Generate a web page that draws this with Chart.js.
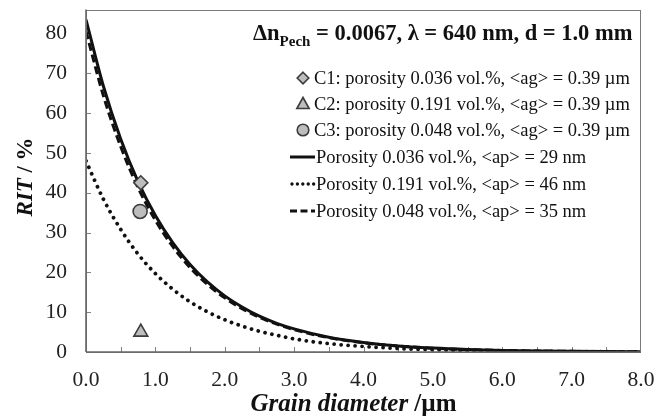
<!DOCTYPE html>
<html>
<head>
<meta charset="utf-8">
<script src="https://cdn.jsdelivr.net/npm/chart.js@4.4.1/dist/chart.umd.min.js"></script>
<style>
html,body{margin:0;padding:0;background:#fff;}
#wrap{width:657px;height:419px;position:relative;}
</style>
</head>
<body>
<div id="wrap"><canvas id="c" width="657" height="419"></canvas></div>
<script>
// ---- data ----
const grainX = [0, 0.25, 0.5, 0.75, 1.0, 1.25, 1.5, 1.75, 2.0, 2.25, 2.5, 2.75, 3.0, 3.5, 4.0, 4.5, 5.0, 5.5, 6.0, 6.5, 7.0, 7.5, 8.0];
const rit036 = [83.5, 66.8, 53.5, 42.8, 34.3, 27.5, 22.0, 17.6, 14.1, 11.3, 9.0, 7.2, 5.8, 3.7, 2.4, 1.5, 0.98, 0.63, 0.40, 0.26, 0.17, 0.11, 0.07];
const rit191 = [48.0, 38.4, 30.8, 24.6, 19.7, 15.8, 12.6, 10.1, 8.1, 6.5, 5.2, 4.2, 3.3, 2.1, 1.4, 0.87, 0.56, 0.36, 0.23, 0.15, 0.10, 0.06, 0.04];
const rit048 = [80.5, 64.4, 51.6, 41.3, 33.1, 26.5, 21.2, 17.0, 13.6, 10.9, 8.7, 7.0, 5.6, 3.6, 2.3, 1.5, 0.94, 0.60, 0.39, 0.25, 0.16, 0.10, 0.06];
const sampleNames = ["C1: porosity 0.036 vol.%, <ag> = 0.39 µm", "C2: porosity 0.191 vol.%, <ag> = 0.39 µm", "C3: porosity 0.048 vol.%, <ag> = 0.39 µm"];
const sampleX = [0.79, 0.79, 0.78];
const sampleY = [42.5, 5.0, 35.3];
const curveNames = ["Porosity 0.036 vol.%, <ap> = 29 nm", "Porosity 0.191 vol.%, <ap> = 46 nm", "Porosity 0.048 vol.%, <ap> = 35 nm"];
const xTickLabels = ["0.0","1.0","2.0","3.0","4.0","5.0","6.0","7.0","8.0"];
const yTickLabels = ["0","10","20","30","40","50","60","70","80"];
const titleParts = ["Δn", "Pech", " = 0.0067, λ = 640 nm, d = 1.0 mm"];
const xTitleParts = ["Grain diameter", " /µm"];
const yTitleParts = ["RIT", " / %"];

const SERIF = '"Liberation Serif", "Times New Roman", serif';
const GRAYFILL = '#bdbdbd', MARKEDGE = '#3c3c3c', LINE = '#111111';

function pts(xs, ys){ return xs.map((x,i)=>({x:x, y:ys[i]})); }

const markerStyles = ['rectRot','triangle','circle'];
const markerRadius = [7, 8, 7];

const datasets = [
  {label: curveNames[0], data: pts(grainX, rit036), showLine:true, borderColor:LINE, borderWidth:3, pointRadius:0, cubicInterpolationMode:'monotone', order:3},
  {label: curveNames[1], data: pts(grainX, rit191), showLine:true, borderColor:LINE, borderWidth:3.8, borderDash:[0.01,7], borderCapStyle:'round', pointRadius:0, cubicInterpolationMode:'monotone', order:3},
  {label: curveNames[2], data: pts(grainX, rit048), showLine:true, borderColor:LINE, borderWidth:3, borderDash:[8,4], pointRadius:0, cubicInterpolationMode:'monotone', order:3},
];
for (let i=0;i<3;i++){
  datasets.push({label: sampleNames[i], data:[{x:sampleX[i], y:sampleY[i]}], showLine:false,
    pointStyle: markerStyles[i], pointRadius: markerRadius[i], pointBackgroundColor:GRAYFILL,
    pointBorderColor:MARKEDGE, pointBorderWidth:1.6, order:1});
}

function drawMarker(ctx, style, x, y, r){
  ctx.save();
  ctx.fillStyle = GRAYFILL; ctx.strokeStyle = MARKEDGE; ctx.lineWidth = 1.6;
  ctx.beginPath();
  if (style==='rectRot'){ ctx.moveTo(x, y-r); ctx.lineTo(x+r, y); ctx.lineTo(x, y+r); ctx.lineTo(x-r, y); ctx.closePath(); }
  else if (style==='triangle'){ ctx.moveTo(x, y-r); ctx.lineTo(x+r*0.95, y+r*0.7); ctx.lineTo(x-r*0.95, y+r*0.7); ctx.closePath(); }
  else { ctx.arc(x, y, r, 0, Math.PI*2); }
  ctx.fill(); ctx.stroke();
  ctx.restore();
}

const decor = {
  id:'decor',
  beforeDatasetsDraw(chart){
    const {ctx, chartArea:a, scales} = chart;
    ctx.save();
    ctx.strokeStyle = '#808080'; ctx.lineWidth = 1;
    const xs = scales.x, ys = scales.y;
    for (let v=0.5; v<8; v+=0.5){
      const px = Math.round(xs.getPixelForValue(v))+0.5;
      ctx.beginPath(); ctx.moveTo(px, a.bottom); ctx.lineTo(px, a.bottom-5); ctx.stroke();
    }
    for (let v=10; v<=80; v+=10){
      const py = Math.round(ys.getPixelForValue(v))+0.5;
      ctx.beginPath(); ctx.moveTo(a.left, py); ctx.lineTo(a.left+5, py); ctx.stroke();
    }
    ctx.restore();
  },
  afterDraw(chart){
    const {ctx, chartArea:a} = chart;
    ctx.save();
    ctx.strokeStyle = '#7a7a7a'; ctx.lineWidth = 1;
    ctx.strokeRect(Math.round(a.left)+0.5, Math.round(a.top)+0.5, Math.round(a.right-a.left)-1, Math.round(a.bottom-a.top));
    ctx.strokeStyle = '#666'; ctx.lineWidth = 1.6;
    ctx.beginPath(); ctx.moveTo(a.left, a.bottom); ctx.lineTo(a.right, a.bottom); ctx.stroke();
    ctx.beginPath(); ctx.moveTo(a.left, a.top); ctx.lineTo(a.left, a.bottom); ctx.stroke();

    ctx.fillStyle = '#111';
    ctx.textBaseline = 'alphabetic';
    // legend title
    let tx = 253, ty = 40;
    ctx.font = 'bold 22.5px ' + SERIF; ctx.textAlign='left';
    ctx.fillText(titleParts[0], tx, ty); tx += ctx.measureText(titleParts[0]).width;
    ctx.font = 'bold 15px ' + SERIF;
    ctx.fillText(titleParts[1], tx, ty+6); tx += ctx.measureText(titleParts[1]).width;
    ctx.font = 'bold 22.5px ' + SERIF;
    ctx.fillText(titleParts[2], tx, ty);

    // legend entries
    ctx.font = '18.5px ' + SERIF;
    const rowY = [78, 104, 130, 157, 184, 211];
    for (let i=0;i<3;i++){
      drawMarker(ctx, markerStyles[i], 303, rowY[i], i===1?6.5:5.8);
      ctx.fillStyle='#111';
      ctx.fillText(sampleNames[i], 314, rowY[i]+6);
    }
    const dashes = [[], [0.01,5.4], [7,3.5]];
    for (let i=0;i<3;i++){
      const y = rowY[3+i];
      ctx.save();
      ctx.strokeStyle = LINE; ctx.lineWidth = i===1 ? 3.4 : 3; ctx.setLineDash(dashes[i]);
      ctx.lineCap = i===1 ? 'round' : 'butt';
      ctx.beginPath(); ctx.moveTo(i===1?292:290, y); ctx.lineTo(315, y); ctx.stroke();
      ctx.restore();
      ctx.fillText(curveNames[i], 316, y+6);
    }

    // axis titles
    ctx.font = 'bold italic 25px ' + SERIF;
    let w1 = ctx.measureText(xTitleParts[0]).width;
    ctx.font = 'bold 25px ' + SERIF;
    let w2 = ctx.measureText(xTitleParts[1]).width;
    let sx = 353.5 - (w1+w2)/2;
    ctx.font = 'bold italic 25px ' + SERIF; ctx.fillText(xTitleParts[0], sx, 411);
    ctx.font = 'bold 25px ' + SERIF; ctx.fillText(xTitleParts[1], sx+w1, 411);

    ctx.save();
    ctx.translate(32, 177); ctx.rotate(-Math.PI/2);
    ctx.font = 'bold italic 23px ' + SERIF;
    w1 = ctx.measureText(yTitleParts[0]).width;
    ctx.font = 'bold 23px ' + SERIF;
    w2 = ctx.measureText(yTitleParts[1]).width;
    sx = -(w1+w2)/2;
    ctx.font = 'bold italic 23px ' + SERIF; ctx.fillText(yTitleParts[0], sx, 0);
    ctx.font = 'bold 23px ' + SERIF; ctx.fillText(yTitleParts[1], sx+w1, 0);
    ctx.restore();
    ctx.restore();
  }
};

new Chart(document.getElementById('c'), {
  type:'scatter',
  data:{datasets},
  plugins:[decor],
  options:{
    responsive:false, animation:false, devicePixelRatio:1,
    layout:{padding:{left:0, top:9, right:16, bottom:0}},
    plugins:{legend:{display:false}, tooltip:{enabled:false}},
    scales:{
      x:{type:'linear', min:0, max:8,
        afterFit(s){ s.height = 67; s.paddingLeft = 0; s.paddingRight = 0; },
        grid:{display:false, drawTicks:false}, border:{display:false},
        ticks:{stepSize:1, autoSkip:false, maxRotation:0, padding:15, color:'#222', font:{family:SERIF, size:21.5},
          callback:(v)=>{ const i=Math.round(v); return Math.abs(v-i)<1e-6 ? xTickLabels[i] : ''; }}},
      y:{type:'linear', min:0, max:86,
        afterFit(s){ s.width = 86; s.paddingTop = 0; s.paddingBottom = 0; },
        grid:{display:false, drawTicks:false}, border:{display:false},
        ticks:{stepSize:10, autoSkip:false, includeBounds:false, padding:19, color:'#222', font:{family:SERIF, size:21.5},
          callback:(v)=>{ const i=Math.round(v/10); return (Math.abs(v-i*10)<1e-6 && i<=8) ? yTickLabels[i] : ''; }}}
    }
  }
});
</script>
</body>
</html>
